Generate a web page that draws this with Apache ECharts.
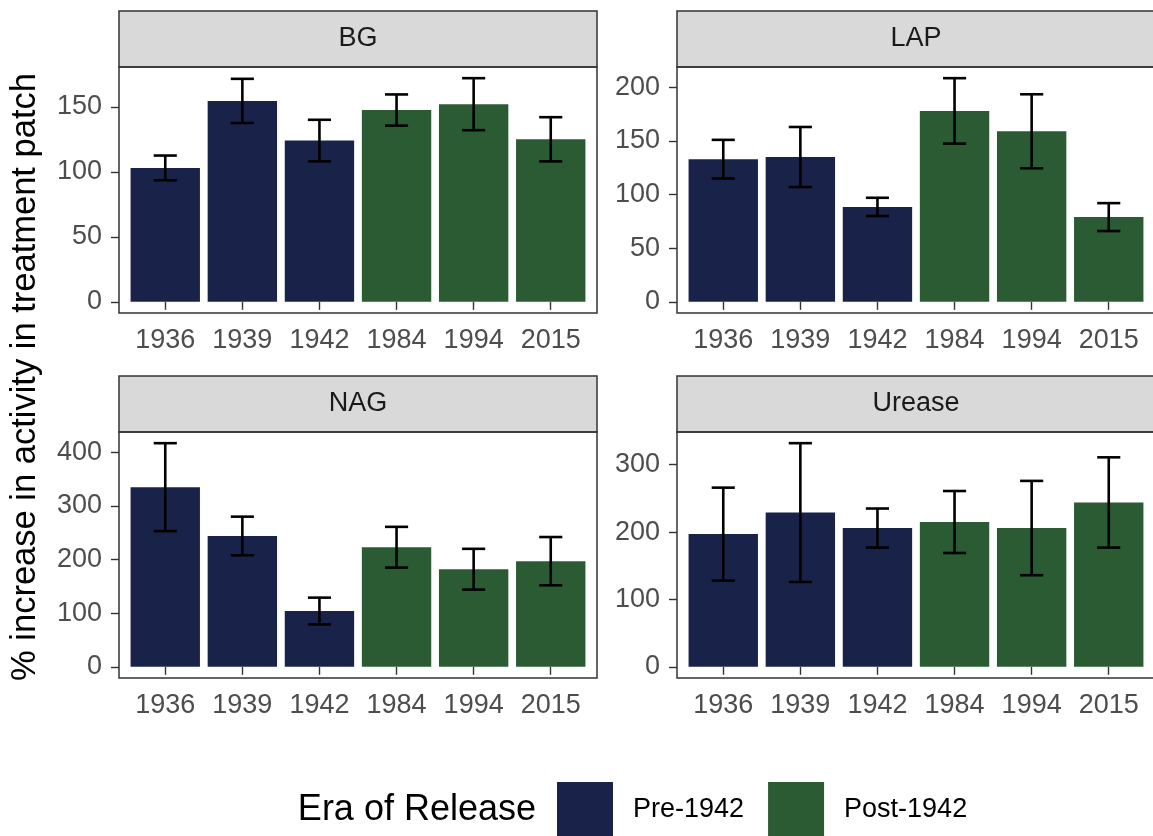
<!DOCTYPE html>
<html>
<head>
<meta charset="utf-8">
<script src="https://cdn.jsdelivr.net/npm/echarts@6/dist/echarts.min.js"></script>
<style>
html,body{margin:0;padding:0;background:#fff;}
#chart{width:1153px;height:836px;}
</style>
</head>
<body>
<div id="chart"></div>
<script>
// ---- data ----
const years = ['1936', '1939', '1942', '1984', '1994', '2015'];
const era = ['Pre-1942', 'Pre-1942', 'Pre-1942', 'Post-1942', 'Post-1942', 'Post-1942'];
const eraNames = ['Pre-1942', 'Post-1942'];
const panelNames = ['BG', 'LAP', 'NAG', 'Urease'];

const bgMean = [103, 154.5, 124, 147.5, 152, 125];
const bgErr = [9.5, 17, 16, 12, 20, 17];
const lapMean = [133, 135, 88.5, 178, 159, 79];
const lapErr = [18, 28, 8.5, 30.5, 34.5, 13];
const nagMean = [335, 244, 104, 223, 182, 197];
const nagErr = [82, 36, 25, 38, 38, 45];
const ureaseMean = [197, 229, 206, 215, 206, 244];
const ureaseErr = [69, 103, 29, 46, 70, 67];

const tickStep = [50, 50, 100, 100];
const tickMax = [150, 200, 400, 300];

const yTitle = '% increase in activity in treatment patch';
const legendTitle = 'Era of Release';

// ---- style / layout ----
const FONT = 'Liberation Sans';
const colors = {'Pre-1942': '#19234a', 'Post-1942': '#2a5b33'};
const colLeft = [119, 677];
const panelW = 478;
const stripTop = [11, 376];
const stripH = 56;
const panelH = 246;

const means = [bgMean, lapMean, nagMean, ureaseMean];
const errs = [bgErr, lapErr, nagErr, ureaseErr];

const grids = [], xAxes = [], yAxes = [], series = [], graphics = [];

panelNames.forEach((name, i) => {
  const col = i % 2, row = Math.floor(i / 2);
  const pLeft = colLeft[col];
  const sTop = stripTop[row];
  const pTop = sTop + stripH;
  const mean = means[i], err = errs[i];
  const maxU = Math.max(...mean.map((m, j) => m + err[j]));
  const lo = -0.05 * maxU, hi = 1.05 * maxU;
  const ppu = panelH / (hi - lo);
  const u = panelW / 6.2;
  const gTop = pTop + (hi - tickMax[i]) * ppu;
  const gH = tickMax[i] * ppu;
  grids.push({left: pLeft + 0.1 * u, top: gTop, width: 6 * u, height: gH, show: false, containLabel: false});
  xAxes.push({
    type: 'category', gridIndex: i, data: years, position: 'bottom',
    offset: -lo * ppu,
    axisLine: {show: false},
    axisTick: {show: true, alignWithLabel: true, interval: 0, length: 8, lineStyle: {color: '#333', width: 1.4}},
    axisLabel: {color: '#4d4d4d', fontSize: 27, fontFamily: FONT, margin: 14, interval: 0, hideOverlap: false},
    splitLine: {show: false}
  });
  yAxes.push({
    type: 'value', gridIndex: i, min: 0, max: tickMax[i], interval: tickStep[i],
    offset: 0.1 * u,
    axisLine: {show: false},
    axisTick: {show: true, length: 8, lineStyle: {color: '#333', width: 1.4}},
    axisLabel: {color: '#4d4d4d', fontSize: 27, fontFamily: FONT, margin: 17},
    splitLine: {show: false}
  });
  eraNames.forEach(en => {
    series.push({
      type: 'bar', name: en, xAxisIndex: i, yAxisIndex: i, stack: 'p' + i,
      barWidth: '90%', clip: false,
      itemStyle: {color: colors[en]},
      data: mean.map((v, j) => era[j] === en ? v : '-'),
      silent: true
    });
  });
  series.push({
    type: 'custom', name: 'err' + i, xAxisIndex: i, yAxisIndex: i, clip: false,
    encode: {x: 0, y: [1, 2]},
    data: mean.map((m, j) => [j, m + err[j], m - err[j]]),
    z: 5,
    renderItem: function (params, api) {
      const x = api.value(0);
      const top = api.coord([x, api.value(1)]);
      const bot = api.coord([x, api.value(2)]);
      const half = api.size([1, 0])[0] * 0.15;
      const st = {stroke: '#000', lineWidth: 2.6};
      return {type: 'group', children: [
        {type: 'line', shape: {x1: top[0], y1: top[1], x2: bot[0], y2: bot[1]}, style: st},
        {type: 'line', shape: {x1: top[0] - half, y1: top[1], x2: top[0] + half, y2: top[1]}, style: st},
        {type: 'line', shape: {x1: bot[0] - half, y1: bot[1], x2: bot[0] + half, y2: bot[1]}, style: st}
      ]};
    }
  });
  // strip and frame
  graphics.push({type: 'rect', shape: {x: pLeft, y: sTop, width: panelW, height: stripH},
    style: {fill: '#d9d9d9', stroke: '#333', lineWidth: 1.5}, z: 10});
  graphics.push({type: 'text', x: pLeft + panelW / 2, y: sTop + stripH / 2,
    style: {text: name, fill: '#1a1a1a', font: '27px "' + FONT + '"', textAlign: 'center', textVerticalAlign: 'middle'}, z: 11});
  graphics.push({type: 'rect', shape: {x: pLeft, y: pTop, width: panelW, height: panelH},
    style: {fill: 'none', stroke: '#333', lineWidth: 1.5}, z: 10});
});

graphics.push({type: 'text', x: 25, y: 377, rotation: Math.PI / 2,
  style: {text: yTitle, fill: '#000', font: '34.5px "' + FONT + '"', textAlign: 'center', textVerticalAlign: 'middle'}});
graphics.push({type: 'text', x: 536, y: 810,
  style: {text: legendTitle, fill: '#000', font: '36px "' + FONT + '"', textAlign: 'right', textVerticalAlign: 'middle'}});

const option = {
  backgroundColor: '#fff',
  animation: false,
  grid: grids, xAxis: xAxes, yAxis: yAxes, series: series,
  legend: {
    data: eraNames, left: 557, top: 782, padding: 0, orient: 'horizontal',
    icon: 'rect', itemWidth: 56, itemHeight: 56, itemGap: 24,
    selectedMode: false,
    textStyle: {fontSize: 27, fontFamily: FONT, color: '#000', padding: [0, 0, 0, 15]}
  },
  graphic: graphics
};

const chart = echarts.init(document.getElementById('chart'), null, {renderer: 'canvas'});
chart.setOption(option);
</script>
</body>
</html>
